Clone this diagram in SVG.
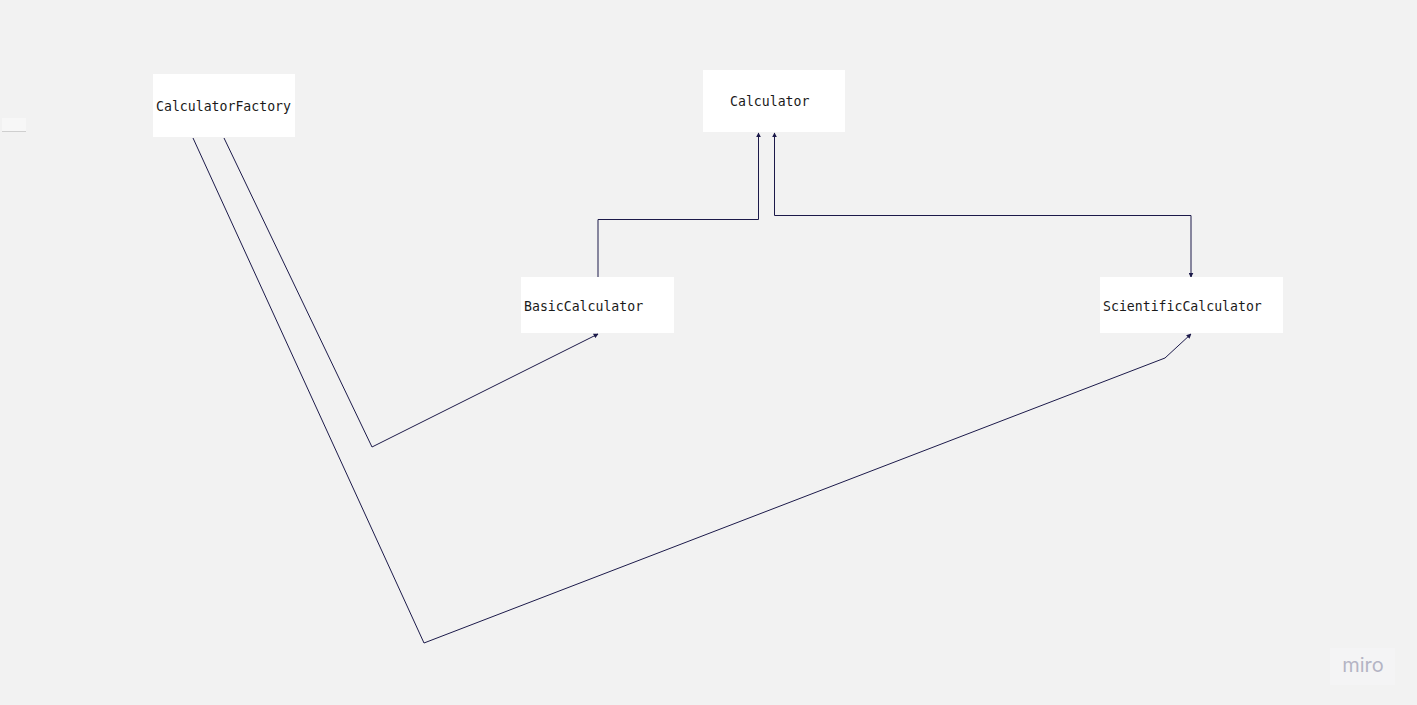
<svg xmlns="http://www.w3.org/2000/svg" width="1417" height="705" viewBox="0 0 1417 705">
  <defs>
    <style>
      .box { fill: #ffffff; }
      .label { font-family: "DejaVu Sans Mono", "Liberation Mono", monospace; font-size: 13.2px; fill: #1a1a1a; }
      .wire { fill: none; stroke: #1c1a4a; stroke-width: 1; }
    </style>
    <marker id="arrow" viewBox="0 0 8 8" refX="7" refY="4" markerWidth="5" markerHeight="5" orient="auto-start-reverse" markerUnits="userSpaceOnUse">
      <path d="M0,0 L8,4 L0,8 Z" fill="#1c1a4a"/>
    </marker>
  </defs>

  <rect width="1417" height="705" fill="#f2f2f2"/>

  <!-- small stray shape on the left edge -->
  <g id="stub">
    <rect x="2" y="118" width="24" height="13" fill="#f7f7f7"/>
    <line x1="2" y1="131.5" x2="26" y2="131.5" stroke="#cfcfcf" stroke-width="1"/>
  </g>

  <g id="connectors">
    <polyline class="wire" points="598,277 598,219.5 758.5,219.5 758.5,133" marker-end="url(#arrow)"/>
    <polyline class="wire" points="1191,277 1191,215.5 774.5,215.5 774.5,133" marker-start="url(#arrow)" marker-end="url(#arrow)"/>
    <polyline class="wire" points="224,138 372,447 598,334" marker-end="url(#arrow)"/>
    <polyline class="wire" points="193,138 424,643 1165,358 1191,334" marker-end="url(#arrow)"/>
  </g>

  <g id="CalculatorFactory">
    <rect class="box" x="153" y="74" width="142" height="63"/>
    <text class="label" x="156" y="111">CalculatorFactory</text>
  </g>

  <g id="Calculator">
    <rect class="box" x="703" y="70" width="142" height="62"/>
    <text class="label" x="730" y="106">Calculator</text>
  </g>

  <g id="BasicCalculator">
    <rect class="box" x="521" y="277" width="153" height="56"/>
    <text class="label" x="524" y="311">BasicCalculator</text>
  </g>

  <g id="ScientificCalculator">
    <rect class="box" x="1100" y="277" width="183" height="56"/>
    <text class="label" x="1103" y="311">ScientificCalculator</text>
  </g>

  <g id="watermark">
    <rect x="1330" y="648" width="65" height="37" fill="#f4f4f5"/>
    <text x="1363" y="672" text-anchor="middle" font-family="Inter, 'Open Sans', sans-serif" font-size="20" fill="#b4b4c4">miro</text>
  </g>
</svg>
